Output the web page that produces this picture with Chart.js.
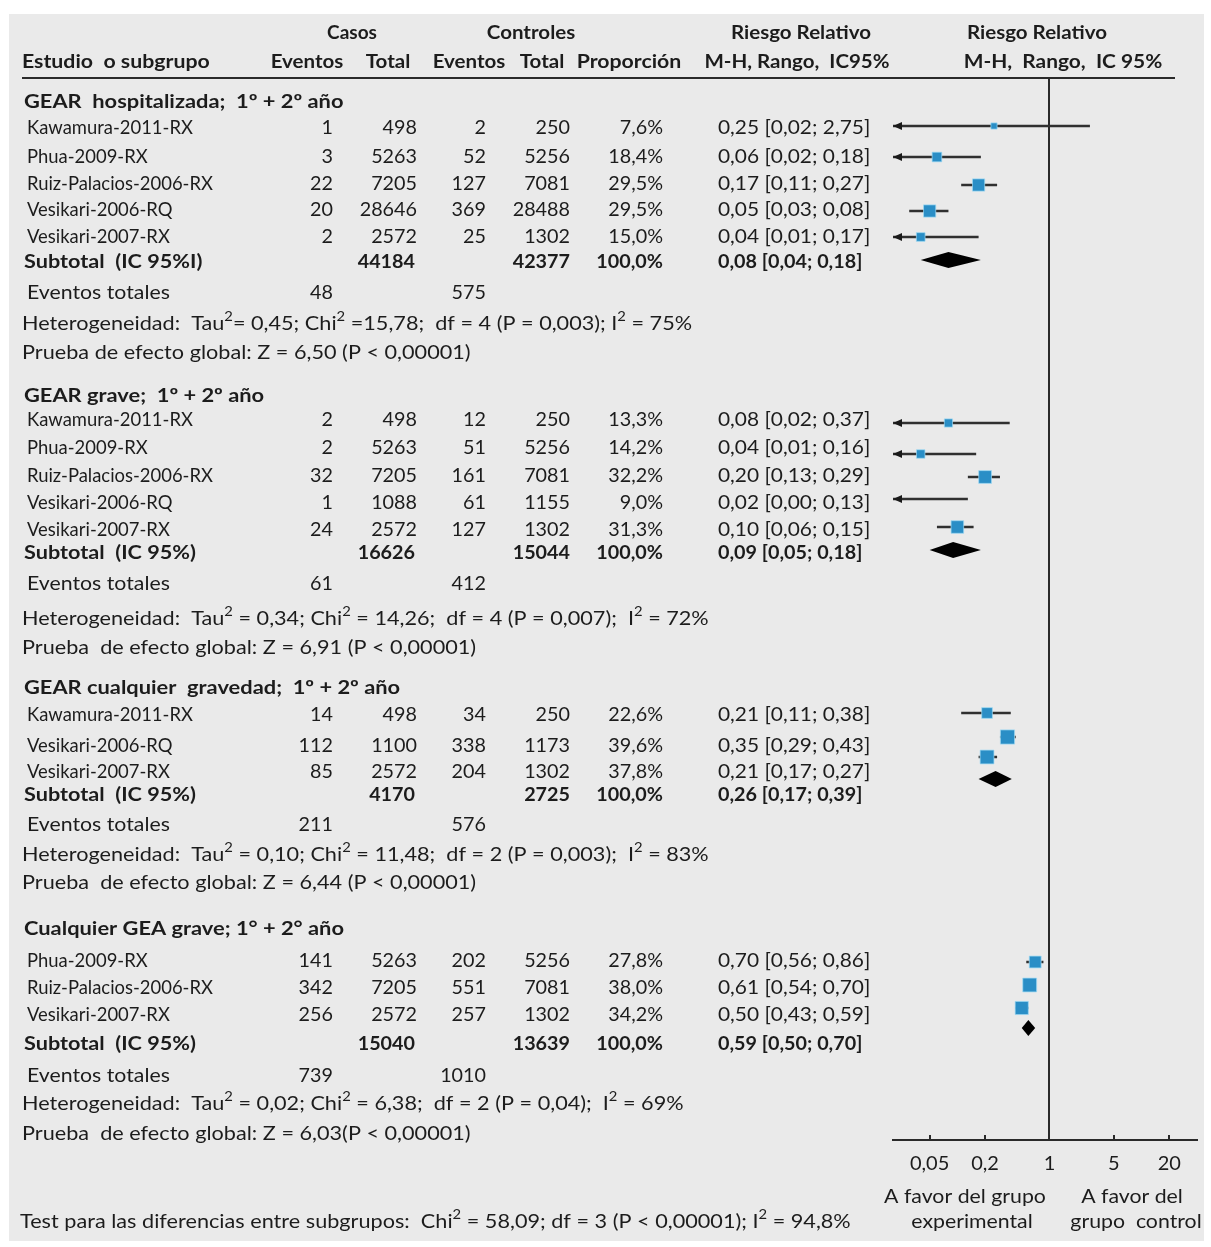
<!DOCTYPE html>
<html>
<head>
<meta charset="utf-8">
<title>Riesgo relativo de GEAR por subgrupo</title>
<script src="https://cdn.jsdelivr.net/npm/chart.js@4.4.1/dist/chart.umd.min.js"></script>
<style>
  html, body { margin: 0; padding: 0; background: #ffffff; }
  canvas { display: block; }
</style>
</head>
<body>
<canvas id="forest" width="1211" height="1247"></canvas>
<script>
// ---------------- data ----------------
const groupTitles = [
  'GEAR  hospitalizada;  1º + 2º año',
  'GEAR grave;  1º + 2º año',
  'GEAR cualquier  gravedad;  1º + 2º año',
  'Cualquier GEA grave; 1° + 2° año'
];
const studyGroup = [0, 0, 0, 0, 0, 1, 1, 1, 1, 1, 2, 2, 2, 3, 3, 3];
const studyNames = [
  'Kawamura-2011-RX', 'Phua-2009-RX', 'Ruiz-Palacios-2006-RX', 'Vesikari-2006-RQ', 'Vesikari-2007-RX',
  'Kawamura-2011-RX', 'Phua-2009-RX', 'Ruiz-Palacios-2006-RX', 'Vesikari-2006-RQ', 'Vesikari-2007-RX',
  'Kawamura-2011-RX', 'Vesikari-2006-RQ', 'Vesikari-2007-RX',
  'Phua-2009-RX', 'Ruiz-Palacios-2006-RX', 'Vesikari-2007-RX'
];
const caseEvents    = [1, 3, 22, 20, 2,      2, 2, 32, 1, 24,       14, 112, 85,     141, 342, 256];
const caseTotal     = [498, 5263, 7205, 28646, 2572,  498, 5263, 7205, 1088, 2572,  498, 1100, 2572,  5263, 7205, 2572];
const controlEvents = [2, 52, 127, 369, 25,  12, 51, 161, 61, 127,  34, 338, 204,    202, 551, 257];
const controlTotal  = [250, 5256, 7081, 28488, 1302,  250, 5256, 7081, 1155, 1302,  250, 1173, 1302,  5256, 7081, 1302];
const weightPct     = [7.6, 18.4, 29.5, 29.5, 15.0,  13.3, 14.2, 32.2, 9.0, 31.3,  22.6, 39.6, 37.8,  27.8, 38.0, 34.2];
const rrEstimate    = [0.25, 0.06, 0.17, 0.05, 0.04,  0.08, 0.04, 0.20, 0.02, 0.10,  0.21, 0.35, 0.21,  0.70, 0.61, 0.50];
const rrLower       = [0.02, 0.02, 0.11, 0.03, 0.01,  0.02, 0.01, 0.13, 0.00, 0.06,  0.11, 0.29, 0.17,  0.56, 0.54, 0.43];
const rrUpper       = [2.75, 0.18, 0.27, 0.08, 0.17,  0.37, 0.16, 0.29, 0.13, 0.15,  0.38, 0.43, 0.27,  0.86, 0.70, 0.59];

const subtotalLabels   = ['Subtotal  (IC 95%I)', 'Subtotal  (IC 95%)', 'Subtotal  (IC 95%)', 'Subtotal  (IC 95%)'];
const subCaseTotal     = [44184, 16626, 4170, 15040];
const subControlTotal  = [42377, 15044, 2725, 13639];
const subRR            = [0.08, 0.09, 0.26, 0.59];
const subLower         = [0.04, 0.05, 0.17, 0.50];
const subUpper         = [0.18, 0.18, 0.39, 0.70];
const totalCaseEvents    = [48, 61, 211, 739];
const totalControlEvents = [575, 412, 576, 1010];
const heterogeneityText = [
  'Heterogeneidad:  Tau^2= 0,45; Chi^2 =15,78;  df = 4 (P = 0,003); I^2 = 75%',
  'Heterogeneidad:  Tau^2 = 0,34; Chi^2 = 14,26;  df = 4 (P = 0,007);  I^2 = 72%',
  'Heterogeneidad:  Tau^2 = 0,10; Chi^2 = 11,48;  df = 2 (P = 0,003);  I^2 = 83%',
  'Heterogeneidad:  Tau^2 = 0,02; Chi^2 = 6,38;  df = 2 (P = 0,04);  I^2 = 69%'
];
const overallEffectText = [
  'Prueba de efecto global: Z = 6,50 (P < 0,00001)',
  'Prueba  de efecto global: Z = 6,91 (P < 0,00001)',
  'Prueba  de efecto global: Z = 6,44 (P < 0,00001)',
  'Prueba  de efecto global: Z = 6,03(P < 0,00001)'
];
const subgroupTestText = 'Test para las diferencias entre subgrupos:  Chi^2 = 58,09; df = 3 (P < 0,00001); I^2 = 94,8%';

const axisTicks = [0.05, 0.2, 1, 5, 20];
const axisMin = 0.02;
const axisMax = 40;

// ---------------- layout (rows in pixels below the header rule) ----------------
const W = 1211, H = 1247;
const PANEL = { x: 9, y: 14, w: 1195, h: 1227 };
const RULE_Y = 79;          // header rule
const AXIS_Y = 1140;        // x axis line
const PLOT_LEFT = 893, PLOT_RIGHT = 1197;

const headRow1 = -46, headRow2 = -17;
const groupHeaderRow  = [23, 317, 609, 850];
const studyTextRow    = [49, 78, 105, 131, 158,  341, 369, 397, 424, 451,  636, 667, 693,  882, 909, 936];
const studyMarkRow    = [47, 78, 106, 132, 158,  344, 375, 398, 420, 448,  634, 658, 678,  883, 906, 929];
const subtotalTextRow = [183, 474, 716, 965];
const subtotalMarkRow = [181, 471, 700, 949];
const totalEventsRow  = [214, 505, 746, 997];
const heterogeneityRow = [245, 540, 776, 1025];
const overallRow      = [274, 569, 804, 1055];
const favourRow1 = 1118, favourRow2 = 1143;

const COL = { head: 24, sub: 24, name: 27, note: 22, caseEv: 333, caseTot: 417, ctrlEv: 486, ctrlTot: 570, weight: 663, rr: 718 };

// horizontal proportions of each kind of text
const WIDTH = { name: 0.97, events: 1.12, num: 1.04, rr: 1.1, note: 1.14, title: 1.15, sub: 1.14, head: 1.08, foot: 1.12 };

const TEXT = '#1c1c1c';
const FONT = 'Lato';
const FS = 19;
const SQUARE_COLOR = '#2a8ec6';
const LINE_COLOR = '#303030';
const SQUARE_K = 2.25;      // square side grows with sqrt(weight)

// ---------------- helpers ----------------
const dec = (v, n) => v.toFixed(n).replace('.', ',');
const rrText = (e, l, u) => `${dec(e, 2)} [${dec(l, 2)}; ${dec(u, 2)}]`;

// draws text with ^x superscripts, horizontally scaled by sx around its anchor
function drawRich(c, str, x, y, align, bold, sx, size) {
  size = size || FS;
  sx = sx || 1;
  const parts = [];
  let buf = '';
  for (let i = 0; i < str.length; i++) {
    if (str[i] === '^') {
      if (buf) parts.push({ t: buf });
      buf = '';
      parts.push({ t: str[i + 1], sup: true });
      i++;
    } else buf += str[i];
  }
  if (buf) parts.push({ t: buf });
  const main = `${bold ? 'bold ' : ''}${size}px ${FONT}`;
  const sup = `${bold ? 'bold ' : ''}${Math.round(size * 0.66)}px ${FONT}`;
  let total = 0;
  parts.forEach(p => { c.font = p.sup ? sup : main; p.w = c.measureText(p.t).width; total += p.w; });
  let cx = align === 'right' ? -total : align === 'center' ? -total / 2 : 0;
  c.save();
  c.translate(x, y);
  c.scale(sx, 1);
  parts.forEach(p => {
    c.font = p.sup ? sup : main;
    c.fillText(p.t, cx, p.sup ? -size * 0.36 : 0);
    cx += p.w;
  });
  c.restore();
}

// ---------------- datasets ----------------
const ciPoints = [];
studyNames.forEach((_, i) => {
  ciPoints.push({ x: Math.max(rrLower[i], axisMin), y: studyMarkRow[i] });
  ciPoints.push({ x: Math.min(rrUpper[i], axisMax), y: studyMarkRow[i] });
  ciPoints.push({ x: null, y: null });
});
const squarePoints = studyNames.map((_, i) => ({ x: rrEstimate[i], y: studyMarkRow[i] }));
const squareRadius = studyNames.map((_, i) =>
  rrEstimate[i] <= axisMin ? 0 : (SQUARE_K * Math.sqrt(weightPct[i])) / (2 * Math.SQRT1_2));

// ---------------- decorations, table text, diamonds ----------------
const forestDecor = {
  id: 'forestDecor',
  beforeDraw(chart) {
    const c = chart.ctx;
    c.save();
    c.fillStyle = '#ffffff';
    c.fillRect(0, 0, W, H);
    c.fillStyle = '#eaeaea';
    c.fillRect(PANEL.x, PANEL.y, PANEL.w, PANEL.h);
    c.restore();
  },
  beforeDatasetsDraw(chart) {
    const c = chart.ctx, xs = chart.scales.x, ys = chart.scales.y;
    c.save();
    c.strokeStyle = '#2a2a2a';
    c.lineWidth = 2;
    // header rule
    c.beginPath();
    c.moveTo(22, ys.getPixelForValue(0) - 1);
    c.lineTo(1175, ys.getPixelForValue(0) - 1);
    c.stroke();
    // line of no effect
    const x1 = Math.round(xs.getPixelForValue(1));
    c.beginPath();
    c.moveTo(x1, ys.getPixelForValue(0) - 1);
    c.lineTo(x1, chart.chartArea.bottom);
    c.stroke();
    // small tick marks above the axis
    axisTicks.forEach(v => {
      if (v === 1) return;
      const px = Math.round(xs.getPixelForValue(v));
      c.beginPath();
      c.moveTo(px, chart.chartArea.bottom - 5);
      c.lineTo(px, chart.chartArea.bottom);
      c.stroke();
    });
    c.restore();
  },
  afterDatasetsDraw(chart) {
    const c = chart.ctx, xs = chart.scales.x, ys = chart.scales.y;
    const Y = v => ys.getPixelForValue(v);
    const left = chart.chartArea.left;
    c.save();

    // arrows for intervals running past the left edge
    c.fillStyle = '#1a1a1a';
    studyNames.forEach((_, i) => {
      if (rrLower[i] > axisMin) return;
      const y = Y(studyMarkRow[i]);
      c.beginPath();
      c.moveTo(left, y);
      c.lineTo(left + 9, y - 4);
      c.lineTo(left + 9, y + 4);
      c.closePath();
      c.fill();
    });

    // pooled estimates
    c.fillStyle = '#000000';
    subRR.forEach((e, g) => {
      const y = Y(subtotalMarkRow[g]);
      const xl = xs.getPixelForValue(subLower[g]);
      const xr = xs.getPixelForValue(subUpper[g]);
      const xc = xs.getPixelForValue(e);
      c.beginPath();
      c.moveTo(xl, y);
      c.lineTo(xc, y - 8);
      c.lineTo(xr, y);
      c.lineTo(xc, y + 8);
      c.closePath();
      c.fill();
    });

    // table text
    c.fillStyle = TEXT;
    c.textBaseline = 'middle';
    c.textAlign = 'left';
    const tx = (s, x, row, align, bold, sx) => drawRich(c, s, x, Y(row), align, bold, sx);

    tx('Casos', 352, headRow1, 'center', true, 1);
    tx('Controles', 531, headRow1, 'center', true, WIDTH.head);
    tx('Riesgo Relativo', 801, headRow1, 'center', true, WIDTH.head);
    tx('Riesgo Relativo', 1037, headRow1, 'center', true, WIDTH.head);
    tx('Estudio  o subgrupo', 22, headRow2, 'left', true, 1.12);
    tx('Eventos', 307, headRow2, 'center', true, WIDTH.head);
    tx('Total', 388, headRow2, 'center', true, WIDTH.head);
    tx('Eventos', 469, headRow2, 'center', true, WIDTH.head);
    tx('Total', 542, headRow2, 'center', true, WIDTH.head);
    tx('Proporción', 629, headRow2, 'center', true, 1.12);
    tx('M-H, Rango,  IC95%', 797, headRow2, 'center', true, WIDTH.head);
    tx('M-H,  Rango,  IC 95%', 1063, headRow2, 'center', true, 1.1);

    groupTitles.forEach((t, g) => tx(t, COL.head, groupHeaderRow[g], 'left', true, WIDTH.title));

    studyNames.forEach((n, i) => {
      const r = studyTextRow[i];
      tx(n, COL.name, r, 'left', false, WIDTH.name);
      tx(String(caseEvents[i]), COL.caseEv, r, 'right', false, WIDTH.num);
      tx(String(caseTotal[i]), COL.caseTot, r, 'right', false, WIDTH.num);
      tx(String(controlEvents[i]), COL.ctrlEv, r, 'right', false, WIDTH.num);
      tx(String(controlTotal[i]), COL.ctrlTot, r, 'right', false, WIDTH.num);
      tx(dec(weightPct[i], 1) + '%', COL.weight, r, 'right', false, WIDTH.num);
      tx(rrText(rrEstimate[i], rrLower[i], rrUpper[i]), COL.rr, r, 'left', false, WIDTH.rr);
    });

    subRR.forEach((e, g) => {
      const r = subtotalTextRow[g];
      const groupWeight = weightPct.reduce((s, w, i) => studyGroup[i] === g ? s + w : s, 0);
      tx(subtotalLabels[g], COL.sub, r, 'left', true, WIDTH.sub);
      tx(String(subCaseTotal[g]), COL.caseTot - 2, r, 'right', true, WIDTH.num);
      tx(String(subControlTotal[g]), COL.ctrlTot, r, 'right', true, WIDTH.num);
      tx(dec(Math.round(groupWeight), 1) + '%', COL.weight, r, 'right', true, WIDTH.num);
      tx(rrText(e, subLower[g], subUpper[g]), COL.rr, r, 'left', true, 1.04);

      tx('Eventos totales', COL.name, totalEventsRow[g], 'left', false, WIDTH.events);
      tx(String(totalCaseEvents[g]), COL.caseEv, totalEventsRow[g], 'right', false, WIDTH.num);
      tx(String(totalControlEvents[g]), COL.ctrlEv, totalEventsRow[g], 'right', false, WIDTH.num);
      tx(heterogeneityText[g], COL.note, heterogeneityRow[g], 'left', false, WIDTH.note);
      tx(overallEffectText[g], COL.note, overallRow[g], 'left', false, WIDTH.note);
    });

    tx('A favor del grupo', 965, favourRow1, 'center', false, WIDTH.foot);
    tx('experimental', 972, favourRow2, 'center', false, WIDTH.foot);
    tx('A favor del', 1132, favourRow1, 'center', false, WIDTH.foot);
    tx('grupo  control', 1136, favourRow2, 'center', false, WIDTH.foot);
    tx(subgroupTestText, 20, favourRow2, 'left', false, WIDTH.note);

    c.restore();
  }
};

function build() {
  new Chart(document.getElementById('forest'), {
    type: 'scatter',
    data: {
      datasets: [
        {
          label: 'IC 95%',
          data: ciPoints,
          showLine: true,
          spanGaps: false,
          borderColor: LINE_COLOR,
          borderWidth: 2.5,
          pointRadius: 0,
          order: 2
        },
        {
          label: 'Riesgo relativo',
          data: squarePoints,
          pointStyle: 'rect',
          pointRadius: squareRadius,
          backgroundColor: SQUARE_COLOR,
          borderColor: 'rgba(160, 220, 245, 0.7)',
          borderWidth: 1,
          order: 1
        }
      ]
    },
    options: {
      responsive: false,
      maintainAspectRatio: false,
      animation: false,
      devicePixelRatio: 1,
      events: [],
      layout: {
        autoPadding: false,
        padding: { left: PLOT_LEFT, right: W - PLOT_RIGHT, top: RULE_Y, bottom: 0 }
      },
      plugins: { legend: { display: false }, tooltip: { enabled: false } },
      scales: {
        x: {
          type: 'logarithmic',
          min: axisMin,
          max: axisMax,
          grid: { display: false, drawTicks: false },
          border: { display: true, color: '#2a2a2a', width: 2 },
          ticks: {
            autoSkip: false,
            maxRotation: 0,
            padding: 12,
            color: TEXT,
            font: { family: FONT, size: 20 },
            callback: v => String(v).replace('.', ',')
          },
          afterBuildTicks: s => { s.ticks = axisTicks.map(v => ({ value: v })); },
          afterFit: s => { s.height = H - AXIS_Y; }
        },
        y: {
          type: 'linear',
          display: false,
          reverse: true,
          min: 0,
          max: AXIS_Y - RULE_Y
        }
      }
    },
    plugins: [forestDecor]
  });
}

const fontsReady = document.fonts && document.fonts.load
  ? Promise.all([document.fonts.load(`${FS}px ${FONT}`), document.fonts.load(`bold ${FS}px ${FONT}`)])
  : Promise.resolve();
fontsReady.then(build, build);
</script>
</body>
</html>
